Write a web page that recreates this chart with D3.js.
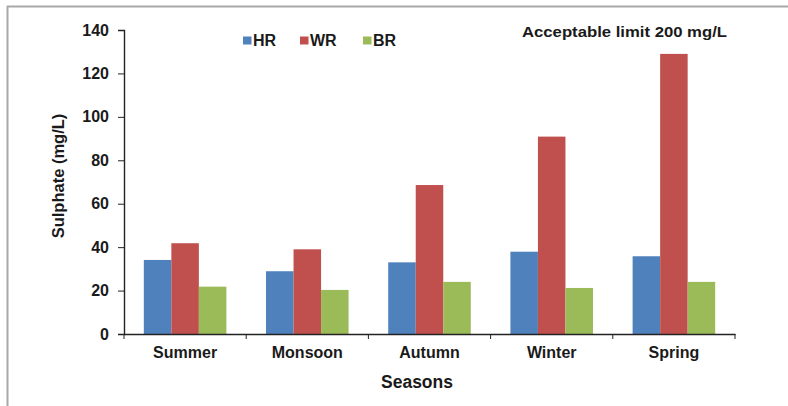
<!DOCTYPE html>
<html>
<head>
<meta charset="utf-8">
<script src="https://cdn.jsdelivr.net/npm/d3@7"></script>
<style>
  body { margin: 0; background: #fff; }
  text { font-family: "Liberation Sans", Arial, sans-serif; font-weight: bold; fill: #1a1a1a; }
</style>
</head>
<body>
<div id="chart"></div>
<script>
var seasons = ["Summer", "Monsoon", "Autumn", "Winter", "Spring"];
var series = ["HR", "WR", "BR"];
var hr = [34.1, 28.9, 33.0, 37.9, 35.8];
var wr = [41.8, 39.0, 68.6, 90.9, 129.0];
var br = [21.8, 20.3, 24.0, 21.2, 24.0];
var yTicks = [0, 20, 40, 60, 80, 100, 120, 140];
var colors = ["#4F81BD", "#C0504D", "#9BBB59"];

var values = { HR: hr, WR: wr, BR: br };

var width = 788, height = 406;
var margin = { top: 30, right: 53, bottom: 72, left: 124 };

var svg = d3.select("#chart")
  .append("svg")
  .attr("width", width)
  .attr("height", height);

svg.append("rect").attr("width", width).attr("height", height).attr("fill", "#fff");

// frame (only top and left edges show)
svg.append("line")
  .attr("x1", 7).attr("x2", width).attr("y1", 6.5).attr("y2", 6.5)
  .attr("stroke", "#a8a8a8").attr("stroke-width", 2);
svg.append("line")
  .attr("x1", 7.5).attr("x2", 7.5).attr("y1", 6).attr("y2", height)
  .attr("stroke", "#a8a8a8").attr("stroke-width", 2);

var x0 = d3.scaleBand()
  .domain(seasons)
  .range([margin.left, width - margin.right])
  .paddingInner(0)
  .paddingOuter(0);

var x1 = d3.scaleBand()
  .domain(series)
  .range([0, x0.bandwidth()])
  .paddingInner(0)
  .paddingOuter(0.72);

var y = d3.scaleLinear()
  .domain([0, 140])
  .range([height - margin.bottom, margin.top]);

var color = d3.scaleOrdinal().domain(series).range(colors);

// bars
var groups = svg.selectAll("g.season")
  .data(seasons)
  .enter()
  .append("g")
  .attr("class", "season")
  .attr("transform", function(d) { return "translate(" + x0(d) + ",0)"; });

groups.selectAll("rect")
  .data(function(d, i) {
    return series.map(function(s) { return { key: s, value: values[s][i] }; });
  })
  .enter()
  .append("rect")
  .attr("x", function(d) { return x1(d.key); })
  .attr("y", function(d) { return y(d.value); })
  .attr("width", x1.bandwidth())
  .attr("height", function(d) { return y(0) - y(d.value); })
  .attr("fill", function(d) { return color(d.key); });

// y axis
var yAxis = svg.append("g")
  .attr("transform", "translate(" + margin.left + ",0)")
  .call(d3.axisLeft(y).tickValues(yTicks).tickSize(6).tickPadding(9));
yAxis.select(".domain").attr("stroke", "#222").attr("stroke-width", 1.4);
yAxis.selectAll(".tick line").attr("stroke", "#222");
yAxis.selectAll("text")
  .attr("font-size", 16).attr("font-family", null).attr("fill", "#1a1a1a");

// x axis
var xAxis = svg.append("g")
  .attr("transform", "translate(0," + y(0) + ")")
  .call(d3.axisBottom(x0).tickSize(0).tickPadding(13).tickSizeOuter(0));
xAxis.select(".domain").attr("stroke", "#222").attr("stroke-width", 1.4);
xAxis.selectAll("text")
  .attr("font-size", 16).attr("font-family", null).attr("fill", "#1a1a1a");

var bounds = seasons.map(function(s) { return x0(s); }).concat([x0.range()[1]]);
xAxis.selectAll("line.bound")
  .data(bounds)
  .enter()
  .append("line")
  .attr("class", "bound")
  .attr("x1", function(d) { return d; })
  .attr("x2", function(d) { return d; })
  .attr("y1", 0)
  .attr("y2", 5)
  .attr("stroke", "#222");

// axis titles
svg.append("text")
  .attr("transform", "translate(64,176) rotate(-90)")
  .attr("text-anchor", "middle")
  .attr("font-size", 16.5)
  .text("Sulphate (mg/L)");

svg.append("text")
  .attr("x", 417)
  .attr("y", 388)
  .attr("text-anchor", "middle")
  .attr("font-size", 17.5)
  .text("Seasons");

// note
svg.append("text")
  .attr("x", 522)
  .attr("y", 37)
  .attr("font-size", 14.5)
  .attr("textLength", 205)
  .attr("lengthAdjust", "spacingAndGlyphs")
  .text("Acceptable  limit 200 mg/L");

// legend
var legendX = [243, 300, 363];
var legend = svg.selectAll("g.legend")
  .data(series)
  .enter()
  .append("g")
  .attr("class", "legend")
  .attr("transform", function(d, i) { return "translate(" + legendX[i] + ",0)"; });

legend.append("rect")
  .attr("x", 0).attr("y", 36.5)
  .attr("width", 8.5).attr("height", 8)
  .attr("fill", function(d) { return color(d); });

legend.append("text")
  .attr("x", 10)
  .attr("y", 45.5)
  .attr("font-size", 16)
  .text(function(d) { return d; });
</script>
</body>
</html>
